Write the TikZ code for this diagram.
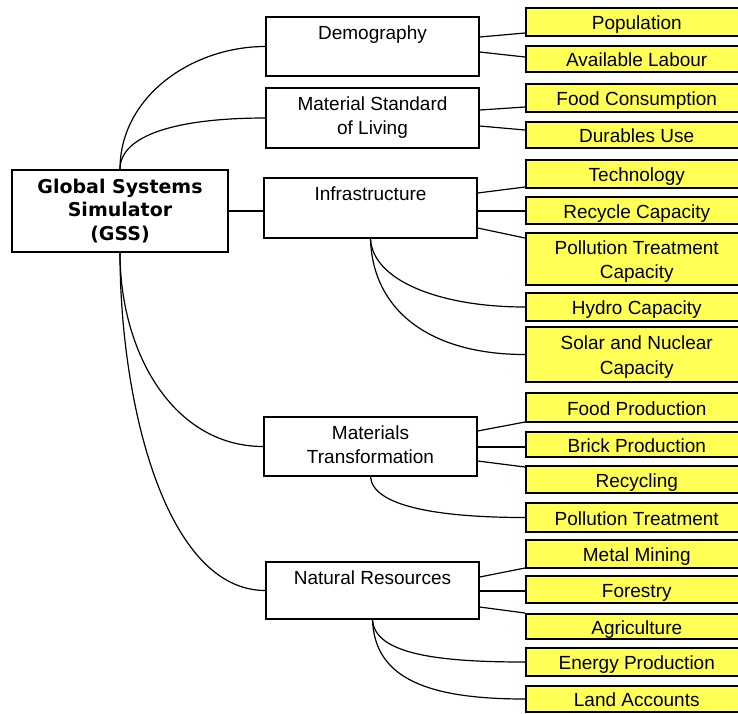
\documentclass[tikz,border=0pt]{standalone}
\usepackage{fontspec}
\setmainfont{Liberation Sans}
\newfontfamily\gssfont{DejaVu Sans}
\definecolor{boxyellow}{RGB}{255,255,85}
\begin{document}
\begin{tikzpicture}[x=1pt,y=-1pt,
  every node/.style={font=\fontsize{19}{24.5}\selectfont},
  midbox/.style={draw, line width=1.3pt, fill=white, minimum width=213pt, inner sep=0pt, align=center},
  ybox/.style={draw, line width=1.5pt, fill=boxyellow, minimum width=222pt, anchor=west, inner sep=0pt, align=center, text height=16.5pt, text depth=1.5pt},
  ybox2/.style={ybox, text height=40pt, text depth=1pt},
  link/.style={line width=1.2pt}]
\useasboundingbox (0,0) rectangle (738,713);
\clip (0,0) rectangle (738,713);
\fill[white] (0,0) rectangle (738,713);

% main box
\node[draw, line width=1.5pt, minimum width=216pt, minimum height=82pt, inner sep=0pt, align=center,
      font=\gssfont\bfseries\fontsize{19}{23.5}\selectfont] (gss) at (120,211) {Global Systems\\Simulator\\(GSS)};

% middle boxes
\node[midbox, text height=22pt, text depth=37pt] (dem) at (372.5,46.5) {Demography};
\node[midbox, text height=46.5pt, text depth=13.5pt] (msl) at (372.5,118) {Material Standard\\of Living};
\node[midbox, text height=22pt, text depth=38pt] (inf) at (370.5,208) {Infrastructure};
\node[midbox, text height=46.5pt, text depth=12.5pt] (mat) at (370.5,446.5) {Materials\\Transformation};
\node[midbox, text height=22pt, text depth=35pt] (nat) at (372.5,590.5) {Natural Resources};

% yellow boxes
\node[ybox, minimum height=28pt] (pop) at (525,22) {Population};
\node[ybox, minimum height=26pt] (lab) at (525,59) {Available Labour};
\node[ybox, minimum height=28pt] (foodc) at (525,98) {Food Consumption};
\node[ybox, minimum height=26pt] (dur) at (525,135) {Durables Use};
\node[ybox, minimum height=28pt] (tech) at (525,174) {Technology};
\node[ybox, minimum height=27pt] (recap) at (525,210.5) {Recycle Capacity};
\node[ybox2, minimum height=52pt] (ptcap) at (525,259) {Pollution Treatment\\Capacity};
\node[ybox, minimum height=28pt] (hydro) at (525,307) {Hydro Capacity};
\node[ybox2, minimum height=55pt] (solar) at (525,354.5) {Solar and Nuclear\\Capacity};
\node[ybox, minimum height=29pt] (foodp) at (525,407.5) {Food Production};
\node[ybox, minimum height=25pt] (brick) at (525,444.5) {Brick Production};
\node[ybox, minimum height=27pt] (recyc) at (525,479.5) {Recycling};
\node[ybox, minimum height=29pt] (pollt) at (525,517.5) {Pollution Treatment};
\node[ybox, minimum height=28pt] (metal) at (525,554) {Metal Mining};
\node[ybox, minimum height=27pt] (forest) at (525,589.5) {Forestry};
\node[ybox, minimum height=25pt] (agri) at (525,626.5) {Agriculture};
\node[ybox, minimum height=28pt] (energy) at (525,662) {Energy Production};
\node[ybox, minimum height=26pt] (land) at (525,699) {Land Accounts};

% GSS connectors
\draw[link] (gss.north) .. controls +(0,-73) and +(-73,0) .. (dem.west);
\draw[link] (gss.north) .. controls +(0,-35) and +(-86,0) .. (msl.west);
\draw[link] (gss.east) -- (gss.east -| inf.west);
\draw[link] (gss.south) .. controls +(0,100) and +(-90,0) .. (mat.west);
\draw[link] (gss.south) .. controls +(0,150) and +(-100,0) .. (nat.west);

% Demography
\draw[link] ([yshift=9.5pt]dem.east) -- ([yshift=-11pt]pop.west);
\draw[link] ([yshift=-5.5pt]dem.east) -- ([yshift=2pt]lab.west);
% Material Standard of Living
\draw[link] ([yshift=8pt]msl.east) -- ([yshift=-9pt]foodc.west);
\draw[link] ([yshift=-8pt]msl.east) -- ([yshift=5pt]dur.west);
% Infrastructure
\draw[link] ([yshift=15pt]inf.east) -- ([yshift=-13pt]tech.west);
\draw[link] ([yshift=-3pt]inf.east) -- ([yshift=-0.5pt]recap.west);
\draw[link] ([yshift=-20pt]inf.east) -- ([yshift=21pt]ptcap.west);
\draw[link] (inf.south) .. controls +(2,42) and +(-85,0) .. (hydro.west);
\draw[link] (inf.south) .. controls +(2,72) and +(-95,0) .. (solar.west);
% Materials Transformation
\draw[link] ([yshift=15.5pt]mat.east) -- ([yshift=-14.5pt]foodp.west);
\draw[link] ([yshift=-0.5pt]mat.east) -- ([yshift=-2.5pt]brick.west);
\draw[link] ([yshift=-14.5pt]mat.east) -- ([yshift=12.5pt]recyc.west);
\draw[link] (mat.south) .. controls +(2,30) and +(-85,0) .. (pollt.west);
% Natural Resources
\draw[link] ([yshift=13.5pt]nat.east) -- ([yshift=-14pt]metal.west);
\draw[link] ([yshift=-0.5pt]nat.east) -- ([yshift=-1.5pt]forest.west);
\draw[link] ([yshift=-16.5pt]nat.east) -- ([yshift=13.5pt]agri.west);
\draw[link] (nat.south) .. controls +(2,35) and +(-85,0) .. (energy.west);
\draw[link] (nat.south) .. controls +(2,60) and +(-95,0) .. (land.west);
\end{tikzpicture}
\end{document}
